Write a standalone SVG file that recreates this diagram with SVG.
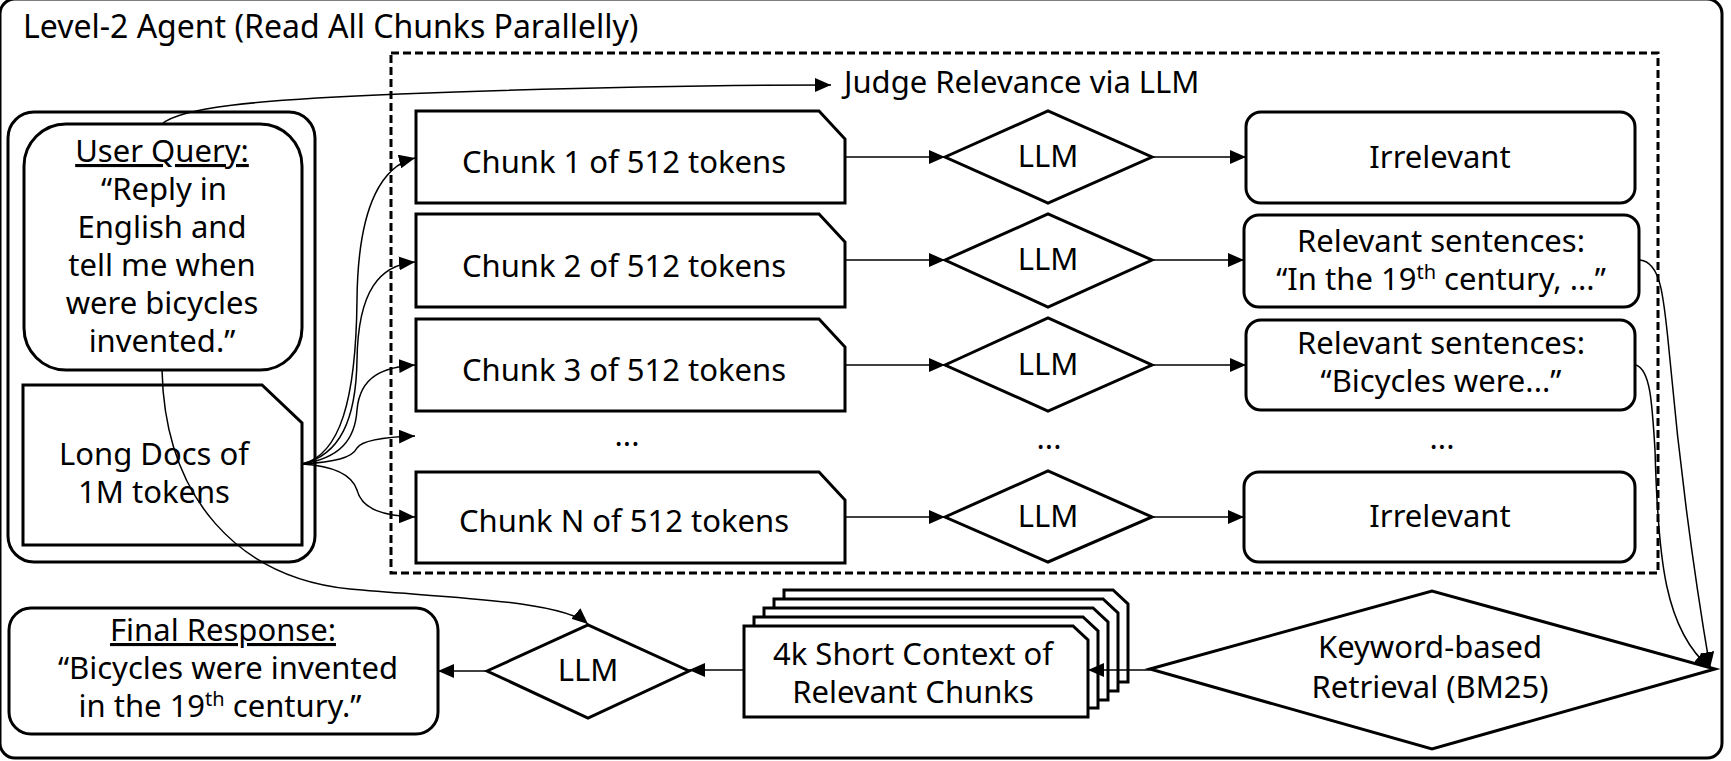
<svg xmlns="http://www.w3.org/2000/svg" width="1731" height="761" viewBox="0 0 1731 761">
<defs>
<style>
text{font-family:"Noto Sans","Open Sans","DejaVu Sans",sans-serif;font-size:31px;fill:#000}
.c{text-anchor:middle}
.box{fill:#fff;stroke:#000;stroke-width:3}
.frame{fill:none;stroke:#000;stroke-width:3}
.dash{fill:none;stroke:#000;stroke-width:3;stroke-dasharray:8 4}
.ln{fill:none;stroke:#000;stroke-width:1.5;marker-end:url(#ah)}
.sup{font-size:20px}
</style>
<marker id="ah" viewBox="0 0 16 14" refX="16" refY="7" markerWidth="16" markerHeight="14" markerUnits="userSpaceOnUse" orient="auto">
<path d="M0,0 L16,7 L0,14 z" fill="#000"/>
</marker>
</defs>

<rect class="frame" x="0" y="-1" width="1722" height="759" rx="15"/>
<text x="23" y="38" style="font-size:32px">Level-2 Agent (Read All Chunks Parallelly)</text>

<rect class="dash" x="391" y="53" width="1267" height="520"/>
<text x="844" y="93">Judge Relevance via LLM</text>

<g id="input-group">
<rect class="frame" x="8" y="112" width="307" height="450" rx="26"/>
</g>
<g id="user-query">
<rect class="box" x="24" y="124" width="278" height="246" rx="42"/>
<text class="c" x="162" y="162" text-decoration="underline">User Query:</text>
<text class="c" x="164" y="200">“Reply in</text>
<text class="c" x="162" y="238">English and</text>
<text class="c" x="162" y="276">tell me when</text>
<text class="c" x="162" y="314">were bicycles</text>
<text class="c" x="162" y="352">invented.”</text>
</g>
<g id="long-docs">
<path class="box" d="M23,385 H262 L302,423 V545 H23 Z"/>
<text class="c" x="154" y="465">Long Docs of</text>
<text class="c" x="154" y="503">1M tokens</text>
</g>

<g id="chunk-1"><path class="box" d="M416,111 H819 L845,139 V203 H416 Z"/><text class="c" x="624" y="173">Chunk 1 of 512 tokens</text></g>
<g id="chunk-2"><path class="box" d="M416,214 H819 L845,242 V307 H416 Z"/><text class="c" x="624" y="277">Chunk 2 of 512 tokens</text></g>
<g id="chunk-3"><path class="box" d="M416,319 H819 L845,347 V411 H416 Z"/><text class="c" x="624" y="381">Chunk 3 of 512 tokens</text></g>
<g id="chunk-gap"><text class="c" x="627" y="446">...</text></g>
<g id="chunk-n"><path class="box" d="M416,472 H819 L845,500 V563 H416 Z"/><text class="c" x="624" y="532">Chunk N of 512 tokens</text></g>

<g id="llm-1"><path class="box" d="M945,157 L1048,111 L1152,157 L1048,203 Z"/><text class="c" x="1048" y="167">LLM</text></g>
<g id="llm-2"><path class="box" d="M945,260 L1048,214 L1152,260 L1048,307 Z"/><text class="c" x="1048" y="270">LLM</text></g>
<g id="llm-3"><path class="box" d="M945,365 L1048,318 L1152,365 L1048,411 Z"/><text class="c" x="1048" y="375">LLM</text></g>
<g id="llm-gap"><text class="c" x="1049" y="449">...</text></g>
<g id="llm-n"><path class="box" d="M945,517 L1048,471 L1152,517 L1048,562 Z"/><text class="c" x="1048" y="527">LLM</text></g>

<g id="result-1"><rect class="box" x="1246" y="112" width="389" height="91" rx="15"/><text class="c" x="1440" y="168">Irrelevant</text></g>
<g id="result-2"><rect class="box" x="1244" y="215" width="395" height="92" rx="15"/>
<text class="c" x="1441" y="252">Relevant sentences:</text>
<text class="c" x="1441" y="290">“In the 19<tspan class="sup" dy="-11">th</tspan><tspan dy="11"> century, ...”</tspan></text></g>
<g id="result-3"><rect class="box" x="1246" y="320" width="389" height="90" rx="15"/>
<text class="c" x="1441" y="354">Relevant sentences:</text>
<text class="c" x="1441" y="392">“Bicycles were...”</text></g>
<g id="result-gap"><text class="c" x="1442" y="449">...</text></g>
<g id="result-n"><rect class="box" x="1244" y="472" width="391" height="90" rx="15"/><text class="c" x="1440" y="527">Irrelevant</text></g>

<g id="retrieval"><path class="box" d="M1150,669 L1432,591 L1715,669 L1432,749 Z"/>
<text class="c" x="1430" y="658">Keyword-based</text>
<text class="c" x="1430" y="698">Retrieval (BM25)</text></g>

<g id="short-context">
<path class="box" d="M784,590 H1113 L1128,604 V682 H784 Z"/>
<path class="box" d="M774,599 H1103 L1118,613 V691 H774 Z"/>
<path class="box" d="M764,608 H1093 L1108,622 V700 H764 Z"/>
<path class="box" d="M754,617 H1083 L1098,631 V708 H754 Z"/>
<path class="box" d="M744,626 H1073 L1088,640 V717 H744 Z"/>
<text class="c" x="913" y="665">4k Short Context of</text>
<text class="c" x="913" y="703">Relevant Chunks</text>
</g>

<g id="llm-final"><path class="box" d="M487,671 L588,625 L689,671 L588,718 Z"/><text class="c" x="588" y="681">LLM</text></g>

<g id="final-response"><rect class="box" x="9" y="608" width="429" height="126" rx="22"/>
<text class="c" x="223" y="641" text-decoration="underline">Final Response:</text>
<text class="c" x="228" y="679">“Bicycles were invented</text>
<text class="c" x="220" y="717">in the 19<tspan class="sup" dy="-11">th</tspan><tspan dy="11"> century.”</tspan></text></g>

<g id="connectors">
<path class="ln" d="M162,124 C180,108 250,100 400,94 C560,88 700,85 831,85"/>
<path class="ln" d="M302,464 C340,455 356,400 357,300 C358,200 385,165 415,158"/>
<path class="ln" d="M302,464 C340,455 356,420 357,360 C358,290 380,265 415,262"/>
<path class="ln" d="M302,464 C340,458 355,440 357,410 C360,375 385,367 415,365"/>
<path class="ln" d="M302,464 C335,462 352,458 357,448 C362,440 385,437 415,436"/>
<path class="ln" d="M302,464 C335,466 352,475 357,490 C362,510 385,516 415,517"/>
<path class="ln" d="M845,157 H945"/>
<path class="ln" d="M845,260 H945"/>
<path class="ln" d="M845,365 H945"/>
<path class="ln" d="M845,517 H945"/>
<path class="ln" d="M1152,157 H1246"/>
<path class="ln" d="M1152,260 H1244"/>
<path class="ln" d="M1152,365 H1246"/>
<path class="ln" d="M1152,517 H1244"/>
<path class="ln" d="M1640,260 C1662,262 1664,300 1670,360 C1680,470 1695,580 1710,668"/>
<path class="ln" d="M1636,365 C1650,370 1652,400 1655,450 C1658,560 1665,630 1710,668"/>
<path class="ln" d="M1150,670 H1088"/>
<path class="ln" d="M744,670 H689"/>
<path class="ln" d="M487,671 H438"/>
<path class="ln" d="M162,370 C165,500 240,578 350,589 C450,598 560,600 588,624"/>
</g>
</svg>
